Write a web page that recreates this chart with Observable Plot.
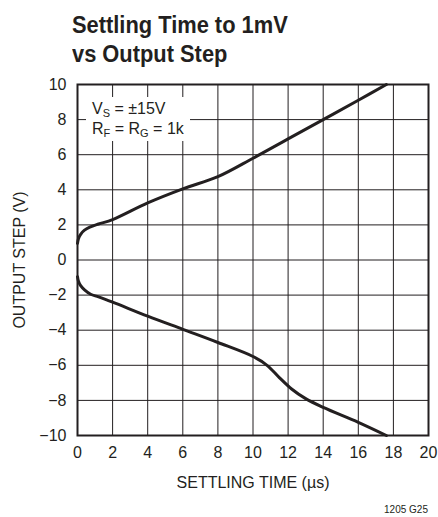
<!DOCTYPE html>
<html>
<head>
<meta charset="utf-8">
<script src="https://cdn.jsdelivr.net/npm/d3@7"></script>
<script src="https://cdn.jsdelivr.net/npm/@observablehq/plot@0.6"></script>
<style>
  body { margin: 0; background: #fff; }
  #wrap { position: relative; width: 438px; height: 517px; font-family: "Liberation Sans", Arial, sans-serif; color: #231f20; }
  #title { position: absolute; left: 72px; top: 11px; font-size: 23px; font-weight: bold; line-height: 29px; white-space: nowrap; transform: scaleX(0.95); transform-origin: left top; }
  #chart { position: absolute; left: 0; top: 0; }
  #note { position: absolute; left: 86px; top: 97px; width: 104px; height: 44px; background: #fff; padding: 2px 0 0 6px; box-sizing: border-box; font-size: 16px; line-height: 20px; white-space: nowrap; }
  #note sub { font-size: 11px; vertical-align: -3px; line-height: 0; }
  #foot { position: absolute; right: 10px; top: 504px; font-size: 10px; line-height: 12px; }
</style>
</head>
<body>
<div id="wrap">
  <div id="chart"></div>
  <div id="title">Settling Time to 1mV<br>vs Output Step</div>
  <div id="note">V<sub>S</sub> = ±15V<br>R<sub>F</sub> = R<sub>G</sub> = 1k</div>
  <div id="foot">1205 G25</div>
</div>
<script>
// Data
const xTicks = [0, 2, 4, 6, 8, 10, 12, 14, 16, 18, 20];
const yTicks = [-10, -8, -6, -4, -2, 0, 2, 4, 6, 8, 10];

const positiveTime = [0, 0.05, 0.17, 0.4, 0.7, 1.2, 2, 4, 6, 8, 10, 12, 14, 16, 17.6];
const positiveStep = [0.95, 1.2, 1.45, 1.7, 1.87, 2.05, 2.3, 3.25, 4.05, 4.75, 5.8, 6.9, 8.0, 9.1, 10];

const negativeTime = [0, 0.05, 0.17, 0.4, 0.75, 1.2, 2, 4, 6, 8, 10, 10.8, 11.5, 12.2, 13, 14, 16, 17.6];
const negativeStep = [-0.95, -1.2, -1.45, -1.7, -1.95, -2.1, -2.4, -3.2, -3.95, -4.7, -5.5, -6.0, -6.7, -7.35, -7.9, -8.4, -9.25, -10];

const positive = positiveTime.map((t, i) => ({t, v: positiveStep[i]}));
const negative = negativeTime.map((t, i) => ({t, v: negativeStep[i]}));

const ink = "#231f20";
const fontFam = '"Liberation Sans", Arial, sans-serif';

const chart = Plot.plot({
  width: 438,
  height: 517,
  marginLeft: 77,
  marginRight: 10,
  marginTop: 84,
  marginBottom: 82,
  style: {fontFamily: fontFam, fontSize: "16px", color: ink, background: "white"},
  x: {domain: [0, 20]},
  y: {domain: [-10, 10]},
  marks: [
    Plot.gridX(xTicks, {stroke: ink, strokeOpacity: 1, strokeWidth: 1}),
    Plot.gridY(yTicks, {stroke: ink, strokeOpacity: 1, strokeWidth: 1}),
    Plot.axisX(xTicks, {tickSize: 0, tickPadding: 11, fontSize: 16, label: "SETTLING TIME (µs)", labelAnchor: "center", labelOffset: 52, labelArrow: "none"}),
    Plot.axisY(yTicks, {tickSize: 0, tickPadding: 11, fontSize: 16, label: "OUTPUT STEP (V)", labelAnchor: "center", labelOffset: 64, labelArrow: "none"}),
    Plot.frame({stroke: ink, strokeWidth: 2}),
    Plot.line(positive, {x: "t", y: "v", stroke: ink, strokeWidth: 3, curve: "catmull-rom"}),
    Plot.line(negative, {x: "t", y: "v", stroke: ink, strokeWidth: 3, curve: "catmull-rom"})
  ]
});
document.getElementById("chart").appendChild(chart);
</script>
</body>
</html>
